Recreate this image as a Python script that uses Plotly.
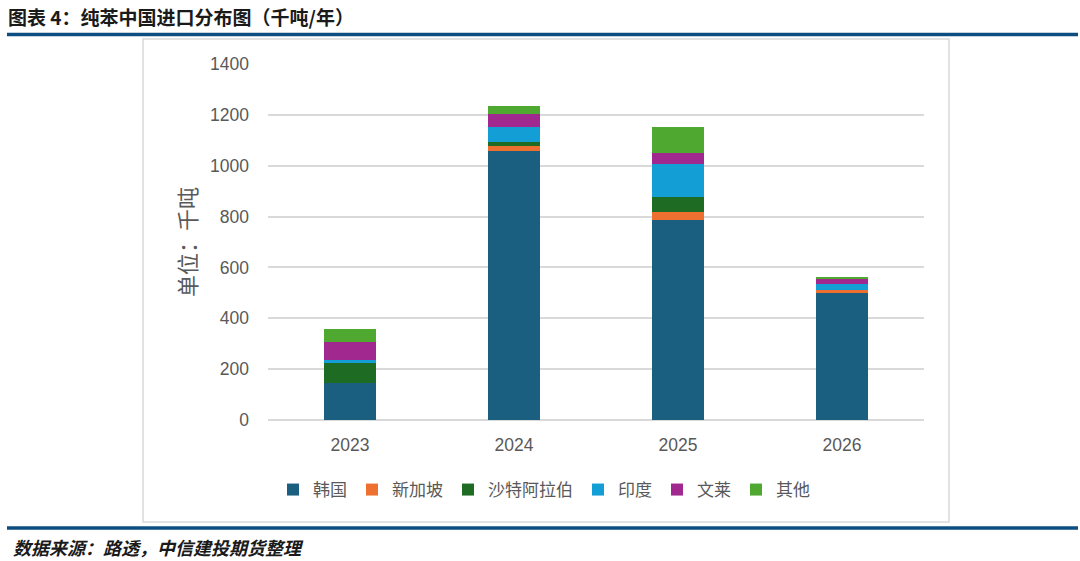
import plotly.graph_objects as go

years = ["2023", "2024", "2025", "2026"]
korea = [144, 1058, 786, 498]
singapore = [0, 21, 31, 13]
saudi = [81, 15, 59, 0]
india = [11, 59, 129, 25]
brunei = [72, 49, 46, 17]
others = [48, 33, 101, 9]

series = [
    ("韩国", korea, "#1A5F80"),
    ("新加坡", singapore, "#ED7031"),
    ("沙特阿拉伯", saudi, "#1E6B23"),
    ("印度", india, "#139FD6"),
    ("文莱", brunei, "#A0288F"),
    ("其他", others, "#4FA830"),
]

W, H = 1080, 561
OFF = 0  # page body margin removed below

fig = go.Figure()
for name, vals, col in series:
    fig.add_trace(go.Bar(name=name, x=years, y=vals, marker=dict(color=col, line=dict(width=0)), width=0.32))

def px(x):
    return (x - OFF) / W

def py(y):
    return 1 - (y - OFF) / H

fig.update_layout(
    width=W, height=H, autosize=False,
    margin=dict(l=0, r=0, t=0, b=0, pad=0, autoexpand=False),
    paper_bgcolor="white", plot_bgcolor="white",
    barmode="stack",
    font=dict(family="Noto Sans CJK SC, Liberation Sans, sans-serif", color="#595959"),
    xaxis=dict(domain=[px(268), px(924)], showgrid=False, showline=False, ticks="", automargin=False,
               ticklabelstandoff=12,
               tickfont=dict(family="Liberation Sans, Arial, sans-serif", size=17.5, color="#595959")),
    yaxis=dict(domain=[py(420), py(64)], range=[0, 1400], dtick=200, showgrid=True, automargin=False,
               gridcolor="#D9D9D9", gridwidth=1.5, zeroline=True, zerolinecolor="#D9D9D9", zerolinewidth=1.5,
               ticks="", ticklabelstandoff=18,
               tickfont=dict(family="Liberation Sans, Arial, sans-serif", size=17.5, color="#595959")),
    legend=dict(orientation="h", x=px(544), xanchor="center", y=py(490), yanchor="middle",
                font=dict(family="Noto Sans CJK SC, sans-serif", size=17, color="#595959"),
                traceorder="normal", itemwidth=30, bgcolor="rgba(0,0,0,0)"),
    showlegend=True,
)

shapes = [
    dict(type="line", xref="paper", yref="paper", x0=px(7), x1=px(1078), y0=py(34.5), y1=py(34.5),
         line=dict(color="#0E4D7F", width=3.5)),
    dict(type="rect", xref="paper", yref="paper", x0=px(143), x1=px(949), y0=py(522), y1=py(39),
         line=dict(color="#D9D9D9", width=1.5), fillcolor="rgba(0,0,0,0)", layer="below"),
    dict(type="line", xref="paper", yref="paper", x0=px(7), x1=px(1078), y0=py(528), y1=py(528),
         line=dict(color="#0E4D7F", width=3.5)),
]
fig.update_layout(shapes=shapes)

fig.add_annotation(text="<b>图表 4：纯苯中国进口分布图（千吨/年）</b>", xref="paper", yref="paper",
                   x=px(7), y=py(16.5), xanchor="left", yanchor="middle", showarrow=False, borderpad=0,
                   font=dict(family="Noto Sans CJK SC, sans-serif", size=19, color="#1a1a1a"))
fig.add_annotation(text="<b><i>数据来源：路透，中信建投期货整理</i></b>", xref="paper", yref="paper",
                   x=px(11), y=py(547), xanchor="left", yanchor="middle", showarrow=False,
                   font=dict(family="Noto Sans CJK SC, sans-serif", size=18, color="#1a1a1a"))
fig.add_annotation(text="单位：千吨", xref="paper", yref="paper", textangle=-90,
                   x=px(186), y=py(242), xanchor="center", yanchor="middle", showarrow=False,
                   font=dict(family="Noto Sans CJK SC, sans-serif", size=22, color="#595959"))

fig.write_html("out.html", config={"displayModeBar": False},
               post_script="document.body.style.margin='0';")
